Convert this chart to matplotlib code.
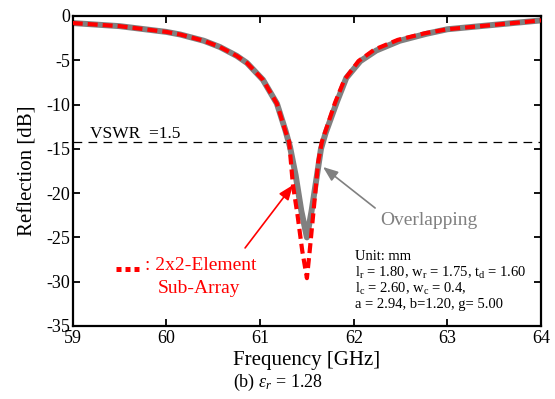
import matplotlib
matplotlib.use("Agg")
import matplotlib.pyplot as plt

plt.rcParams['font.family'] = ['Liberation Serif', 'DejaVu Serif']
plt.rcParams['mathtext.fontset'] = 'custom'
plt.rcParams['mathtext.rm'] = 'Liberation Serif'
plt.rcParams['mathtext.it'] = 'Liberation Serif:italic'

# Data
freq_overlap = [59.0, 59.5, 60.0, 60.15, 60.4, 60.57, 60.75, 60.86, 61.03, 61.18, 61.27,
                61.32, 61.38, 61.44, 61.50, 61.55, 61.60, 61.65, 61.70, 61.82, 61.92,
                62.07, 62.24, 62.49, 62.78, 63.0, 63.5, 64.0]
refl_overlap = [-0.8, -1.15, -1.8, -2.1, -2.8, -3.5, -4.5, -5.3, -7.2, -9.9, -12.9,
                -14.8, -18.0, -22.0, -25.0, -22.0, -18.5, -15.0, -13.2, -9.7, -7.0,
                -5.1, -3.9, -2.8, -2.0, -1.5, -1.0, -0.5]

freq_sub = [59.0, 59.5, 60.0, 60.15, 60.4, 60.57, 60.75, 60.86, 61.03, 61.18, 61.27,
            61.31, 61.35, 61.40, 61.45, 61.50, 61.53, 61.58, 61.62, 61.66, 61.80,
            61.90, 62.05, 62.22, 62.47, 62.76, 63.0, 63.5, 64.0]
refl_sub = [-0.8, -1.15, -1.8, -2.1, -2.8, -3.5, -4.5, -5.3, -7.2, -9.9, -13.0,
            -14.2, -19.0, -22.5, -26.5, -29.6, -26.5, -21.0, -16.5, -14.2, -9.8,
            -7.2, -5.1, -3.8, -2.7, -1.95, -1.5, -1.0, -0.5]

vswr_level = -14.2
x_ticks = [59, 60, 61, 62, 63, 64]
y_ticks = [0, -5, -10, -15, -20, -25, -30, -35]

fig = plt.figure(figsize=(5.55, 3.99), dpi=100)
ax = fig.add_axes([0.131, 0.183, 0.844, 0.777])

ax.plot(freq_overlap, refl_overlap, color='#808080', lw=4.3, solid_capstyle='round', zorder=2)
ax.plot(freq_sub, refl_sub, color='red', lw=3.0, dashes=(2.4, 1.2), zorder=3)
ax.axhline(vswr_level, color='black', lw=0.9, dashes=(7, 5), zorder=1)

ax.set_xlim(59, 64)
ax.set_ylim(-35, 0)
ax.set_xticks(x_ticks)
ax.set_yticks(y_ticks)
ax.set_xticklabels([str(t) for t in x_ticks])
ax.set_yticklabels([str(t) for t in y_ticks])
ax.tick_params(direction='in', length=5, width=1.3, labelsize=13,
               top=True, right=True)
ax.tick_params(axis='x', pad=3)
ax.tick_params(axis='y', pad=2)
for s in ax.spines.values():
    s.set_linewidth(1.6)

ax.set_xlabel('Frequency [GHz]', fontsize=15, labelpad=3)
ax.set_ylabel('Reflection [dB]', fontsize=15, labelpad=6)

ax.text(59.186, -13.77, 'VSWR  =1.5', fontsize=12.5, va='baseline', ha='left')

# red legend-like annotation
ax.plot([0.092, 0.148], [0.183, 0.183], transform=ax.transAxes, color='red',
        lw=3.6, dashes=(1.0, 0.8), solid_capstyle='butt', dash_capstyle='butt',
        clip_on=False)
ax.text(59.775, -28.68, ': 2x2-Element', color='red', fontsize=14, va='baseline')
ax.text(59.91, -31.27, 'Sub-Array', color='red', fontsize=14, va='baseline')

ax.annotate('', xy=(61.352, -19.08), xytext=(60.84, -26.19),
            arrowprops=dict(arrowstyle='-|>,head_length=0.9,head_width=0.35',
                            color='red', lw=1.2, shrinkA=0, shrinkB=0))
ax.annotate('', xy=(61.672, -17.05), xytext=(62.228, -21.68),
            arrowprops=dict(arrowstyle='-|>,head_length=0.9,head_width=0.35',
                            color='#808080', lw=1.2, shrinkA=0, shrinkB=0))
ax.text(62.28, -23.6, 'Overlapping', color='#808080', fontsize=14, va='baseline')

unit_lines = ['Unit: mm',
              r'l$_\mathrm{r}$ = 1.80, w$_\mathrm{r}$ = 1.75, t$_\mathrm{d}$ = 1.60',
              r'l$_\mathrm{c}$ = 2.60, w$_\mathrm{c}$ = 0.4,',
              'a = 2.94, b=1.20, g= 5.00']
unit_y = [-27.55, -29.43, -31.27, -32.97]
for txt, yy in zip(unit_lines, unit_y):
    ax.text(62.013, yy, txt, fontsize=10.5, va='baseline')

fig.text(0.5, 0.03, r'(b) $\varepsilon_r$ = 1.28', fontsize=13, ha='center', va='baseline')

fig.savefig('out.png', dpi=100)
